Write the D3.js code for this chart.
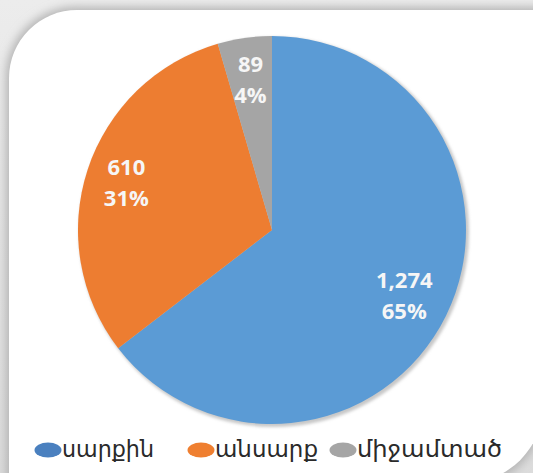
<!DOCTYPE html>
<html><head><meta charset="utf-8">
<script src="https://cdn.jsdelivr.net/npm/d3@7"></script>
<style>html,body{margin:0;padding:0;background:#e6e6e6;}svg{display:block;}</style>
</head><body>
<svg id="chart" width="533" height="473"></svg>
<script>
const categories = ["սարքին", "անսարք", "միջամտած"];
const values = [1274, 610, 89];
const valueLabels = ["1,274", "610", "89"];
const percentLabels = ["65%", "31%", "4%"];
const sliceColors = ["#5b9bd5", "#ed7d31", "#a5a5a5"];
const legendColors = ["#4a80bf", "#ef7f30", "#a5a5a5"];

const W = 533, H = 473;
const svg = d3.select("#chart");
const defs = svg.append("defs");

const bg = defs.append("linearGradient").attr("id","bg").attr("x1",0).attr("y1",0).attr("x2",0).attr("y2",1);
bg.append("stop").attr("offset","0%").attr("stop-color","#ececec");
bg.append("stop").attr("offset","100%").attr("stop-color","#dcdcdc");
const blur = defs.append("filter").attr("id","sh").attr("x","-20%").attr("y","-20%").attr("width","140%").attr("height","140%");
blur.append("feGaussianBlur").attr("stdDeviation",5);
const blur2 = defs.append("filter").attr("id","psh").attr("x","-20%").attr("y","-20%").attr("width","140%").attr("height","140%");
blur2.append("feGaussianBlur").attr("stdDeviation",1.5);

svg.append("rect").attr("width",W).attr("height",H).attr("fill","url(#bg)");

function cardPath(x0,y0,x1,y1,rTL,rBR){
  const p = d3.path();
  p.moveTo(x0+rTL,y0);
  p.lineTo(x1,y0);
  p.lineTo(x1,y1-rBR);
  p.arcTo(x1,y1,x1-rBR,y1,rBR);
  p.lineTo(x0,y1);
  p.lineTo(x0,y0+rTL);
  p.arcTo(x0,y0,x0+rTL,y0,rTL);
  p.closePath();
  return p.toString();
}
svg.append("path").attr("d",cardPath(6,7,545,487,70,80)).attr("fill","#b4b4b4").attr("filter","url(#sh)");
svg.append("path").attr("d",cardPath(9,10,543,483,68,78)).attr("fill","#ffffff");

const cx = 272, cy = 230, r = 194;
const pie = d3.pie().sort(null).value(d => d)(values);
const arc = d3.arc().innerRadius(0).outerRadius(r);
const g = svg.append("g").attr("transform",`translate(${cx},${cy})`);
g.append("circle").attr("cx",2).attr("cy",2).attr("r",r+1).attr("fill","#c8c8c8").attr("filter","url(#psh)");
g.selectAll("path.slice").data(pie).join("path").attr("class","slice")
  .attr("d",arc).attr("fill",(d,i)=>sliceColors[i]);

const fracs = [0.76, 0.79, 0.786];
const lbl = g.selectAll("text.lbl").data(pie).join("text").attr("class","lbl")
  .attr("text-anchor","middle")
  .attr("font-family","'Open Sans', 'DejaVu Sans', sans-serif")
  .attr("font-weight","bold").attr("font-size",22).attr("fill","#f6f6f6");
lbl.each(function(d,i){
  const t = d3.select(this);
  const a = d.startAngle + (d.endAngle-d.startAngle)/2;
  const x = Math.sin(a)*r*fracs[i], y = -Math.cos(a)*r*fracs[i];
  t.append("tspan").attr("x",x).attr("y",y-7.5).text(valueLabels[i]);
  t.append("tspan").attr("x",x).attr("y",y+23.5).text(percentLabels[i]);
});

const legendX = [48, 201, 343];
const lg = svg.append("g");
categories.forEach((c,i)=>{
  lg.append("ellipse").attr("cx",legendX[i]).attr("cy",450).attr("rx",13.5).attr("ry",7.5).attr("fill",legendColors[i]);
  lg.append("text").attr("x",legendX[i]+14).attr("y",457)
    .attr("font-family","'DejaVu Sans', sans-serif").attr("font-size",23).attr("fill","#2a2a2a")
    .attr("textLength", [92,103,145][i]).attr("lengthAdjust","spacingAndGlyphs")
    .text(c);
});
</script>
</body></html>
